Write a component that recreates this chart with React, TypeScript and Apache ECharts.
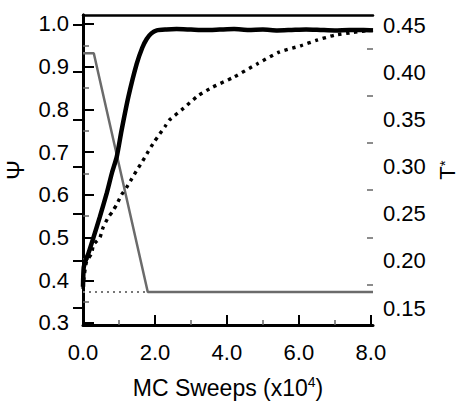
import React, { useEffect, useRef } from "react";
import * as echarts from "echarts";

// MC sweeps in units of 10^4
const sweepsSolid = [0, 0.02, 0.08, 0.15, 0.29, 0.47, 0.66, 0.8, 0.94, 1.07, 1.26, 1.49, 1.65, 1.77, 1.9, 2.05, 2.32, 2.6, 3.0, 3.4, 3.8, 4.2, 4.6, 5.0, 5.4, 5.8, 6.2, 6.6, 7.0, 7.4, 7.8, 8.06];
const psiSolid = [0.385, 0.43, 0.448, 0.463, 0.5, 0.549, 0.604, 0.65, 0.69, 0.75, 0.829, 0.906, 0.945, 0.965, 0.978, 0.985, 0.987, 0.988, 0.987, 0.986, 0.987, 0.988, 0.986, 0.987, 0.985, 0.986, 0.987, 0.986, 0.985, 0.986, 0.986, 0.985];

const sweepsDotted = [0, 0.03, 0.1, 0.24, 0.29, 0.47, 0.56, 0.7, 0.82, 0.94, 1.07, 1.21, 1.35, 1.49, 1.65, 1.81, 1.97, 2.12, 2.28, 2.4, 2.8, 3.2, 3.6, 4.2, 4.85, 5.45, 6.05, 6.5, 7.0, 7.5, 8.06];
const psiDotted = [0.38, 0.408, 0.444, 0.463, 0.483, 0.5, 0.524, 0.547, 0.561, 0.578, 0.6, 0.617, 0.637, 0.657, 0.678, 0.701, 0.723, 0.741, 0.76, 0.775, 0.803, 0.832, 0.852, 0.876, 0.907, 0.934, 0.949, 0.962, 0.974, 0.98, 0.986];

const sweepsT = [0, 0.3, 1.8, 8.06];
const tempT = [0.42, 0.42, 0.167, 0.167];

const sweepsTDotted = [0, 1.8];
const tempTDotted = [0.167, 0.167];

const xMajor = [0, 2, 4, 6, 8];
const xMinor = [1, 3, 5, 7];
const psiMajor = [0.3, 0.4, 0.5, 0.6, 0.7, 0.8, 0.9, 1.0];
const psiMinor = [0.35, 0.45, 0.55, 0.65, 0.75, 0.85, 0.95];
const tMajor = [0.15, 0.2, 0.25, 0.3, 0.35, 0.4, 0.45];
const tMinor = [0.175, 0.225, 0.275, 0.325, 0.375, 0.425];

const FONT = "'Liberation Sans', Arial, sans-serif";

const pairs = (xs: number[], ys: number[]) => xs.map((x, i) => [x, ys[i]]);

export default function App() {
  const ref = useRef<HTMLDivElement>(null);
  useEffect(() => {
    if (!ref.current) return;
    const chart = echarts.init(ref.current, undefined, { renderer: "svg" });
    const xMin = 0, xMax = 8.06;
    const psiMin = 0.2953, psiMax = 1.021;
    const tMin = 0.132, tMax = 0.4606;
    const lbl = { color: "#000", fontSize: 22, fontFamily: FONT };
    chart.setOption({
      animation: false,
      backgroundColor: "#fff",
      grid: { left: 83, right: 87, top: 15, bottom: 79, containLabel: false, outerBoundsMode: "none" },
      xAxis: [
        {
          type: "value", position: "bottom", min: xMin, max: xMax,
          axisLine: { show: true, lineStyle: { color: "#000", width: 3 } },
          axisTick: { show: true, inside: true, length: 10, customValues: xMajor, lineStyle: { color: "#000", width: 2 } },
          axisLabel: { ...lbl, margin: 16, customValues: xMajor, formatter: (v: number) => v.toFixed(1) },
          splitLine: { show: false },
          name: "MC Sweeps (x10{sup|4})", nameLocation: "middle", nameGap: 50,
          nameTextStyle: {
            color: "#000", fontSize: 23, fontFamily: FONT, lineHeight: 26,
            rich: { sup: { fontSize: 14, lineHeight: 14, verticalAlign: "top", color: "#000", fontFamily: FONT } },
          },
        },
        {
          type: "value", position: "bottom", min: xMin, max: xMax,
          axisLine: { show: false },
          axisTick: { show: true, inside: true, length: 5, customValues: xMinor, lineStyle: { color: "#666", width: 1.5 } },
          axisLabel: { show: false },
          splitLine: { show: false },
        },
        {
          type: "value", position: "top", min: xMin, max: xMax,
          axisLine: { show: true, lineStyle: { color: "#000", width: 2.5 } },
          axisTick: { show: false }, axisLabel: { show: false }, splitLine: { show: false },
        },
      ],
      yAxis: [
        {
          type: "value", position: "left", min: psiMin, max: psiMax,
          axisLine: { show: true, lineStyle: { color: "#000", width: 3 } },
          axisTick: { show: true, inside: true, length: 11, customValues: psiMajor, lineStyle: { color: "#000", width: 2 } },
          axisLabel: { ...lbl, margin: 14, customValues: psiMajor, formatter: (v: number) => v.toFixed(1) },
          splitLine: { show: false },
          name: "Ψ", nameLocation: "middle", nameGap: 52, nameRotate: 90,
          nameTextStyle: { color: "#000", fontSize: 24, fontFamily: FONT },
        },
        {
          type: "value", position: "left", min: psiMin, max: psiMax,
          axisLine: { show: false },
          axisTick: { show: true, inside: true, length: 6, customValues: psiMinor, lineStyle: { color: "#666", width: 1.5 } },
          axisLabel: { show: false }, splitLine: { show: false },
        },
        {
          type: "value", position: "right", min: tMin, max: tMax,
          axisLine: { show: true, lineStyle: { color: "#000", width: 3 } },
          axisTick: { show: true, inside: true, length: 10, customValues: tMajor, lineStyle: { color: "#000", width: 2 } },
          axisLabel: { ...lbl, margin: 10, customValues: tMajor, formatter: (v: number) => v.toFixed(2) },
          splitLine: { show: false },
          name: "{t|T}{s|*}", nameLocation: "middle", nameGap: 61, nameRotate: 90,
          nameTextStyle: {
            color: "#000", fontSize: 22, fontFamily: FONT,
            rich: {
              t: { fontSize: 22, lineHeight: 22, color: "#000", fontFamily: FONT },
              s: { fontSize: 15, lineHeight: 12, verticalAlign: "top", color: "#000", fontFamily: FONT },
            },
          },
        },
        {
          type: "value", position: "right", min: tMin, max: tMax,
          axisLine: { show: false },
          axisTick: { show: true, inside: true, length: 6, customValues: tMinor, lineStyle: { color: "#666", width: 1.5 } },
          axisLabel: { show: false }, splitLine: { show: false },
        },
      ],
      series: [
        {
          type: "line", xAxisIndex: 0, yAxisIndex: 2, data: pairs(sweepsTDotted, tempTDotted),
          showSymbol: false, lineStyle: { color: "#777", width: 2, type: [2, 4], cap: "butt" },
        },
        {
          type: "line", xAxisIndex: 0, yAxisIndex: 2, data: pairs(sweepsT, tempT),
          showSymbol: false, lineStyle: { color: "#6b6b6b", width: 2.5 },
        },
        {
          type: "line", xAxisIndex: 0, yAxisIndex: 0, data: pairs(sweepsDotted, psiDotted),
          showSymbol: false, smooth: 0.2, lineStyle: { color: "#000", width: 3.4, type: [3.4, 4.6], cap: "butt" },
        },
        {
          type: "line", xAxisIndex: 0, yAxisIndex: 0, data: pairs(sweepsSolid, psiSolid),
          showSymbol: false, smooth: 0.2, lineStyle: { color: "#000", width: 4.5 },
        },
      ],
    });
    return () => chart.dispose();
  }, []);
  return <div ref={ref} style={{ width: 460, height: 404, position: "absolute", left: 0, top: 0 }} />;
}
